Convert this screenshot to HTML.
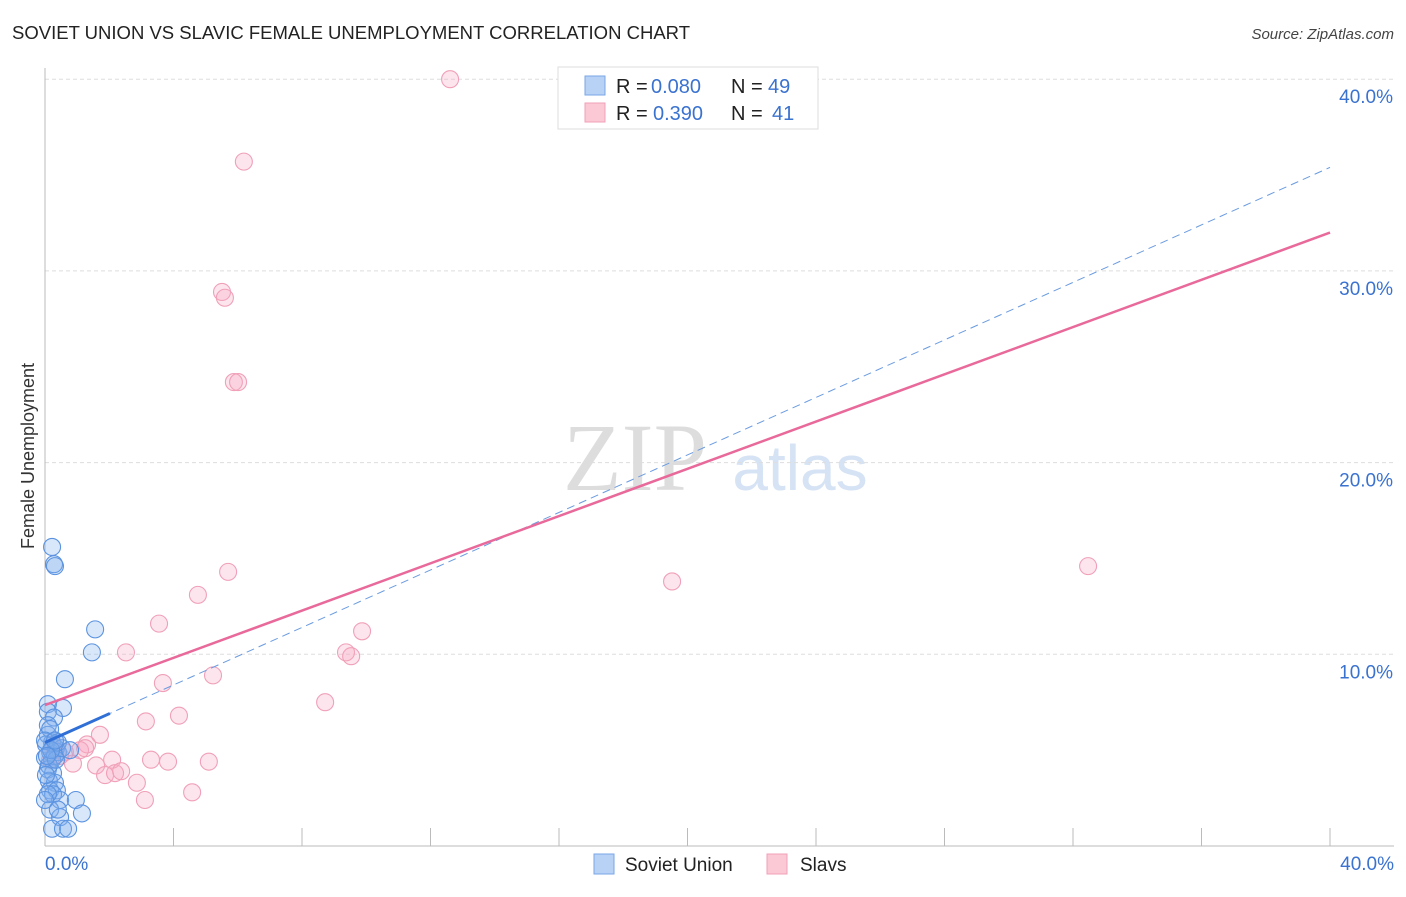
<!DOCTYPE html>
<html><head><meta charset="utf-8"><style>
body{margin:0;background:#fff;font-family:"Liberation Sans",sans-serif;}
svg text{font-family:"Liberation Sans",sans-serif;}
</style></head><body>
<svg width="1406" height="892">
<text x="12" y="39" font-size="18" fill="#222" textLength="678" lengthAdjust="spacingAndGlyphs">SOVIET UNION VS SLAVIC FEMALE UNEMPLOYMENT CORRELATION CHART</text>
<text x="1394" y="39" font-size="15" fill="#444" text-anchor="end" font-style="italic">Source: ZipAtlas.com</text>
<text x="635" y="490" font-size="96" fill="#ddd" text-anchor="middle" style="font-family:'Liberation Serif',serif">ZIP</text>
<text x="800" y="490" font-size="64" fill="#d6e3f5" text-anchor="middle">atlas</text>
<g id="grid"></g>
<g id="axes"></g>
<g id="pts"></g>
<g id="lines"></g>
<text x="34" y="456" font-size="18" fill="#333" text-anchor="middle" transform="rotate(-90 34 456)">Female Unemployment</text>
<g>
<rect x="558" y="67" width="260" height="62" fill="#fff" stroke="#ddd"/>
<rect x="585" y="76" width="20" height="19" fill="#b8d2f5" stroke="#7aa6e6"/>
<rect x="585" y="103" width="20" height="19" fill="#fbc8d6" stroke="#f0a0b8"/>
<text y="93" font-size="20" fill="#222"><tspan x="616">R =</tspan><tspan x="651" fill="#3a72d0">0.080</tspan><tspan x="731">N =</tspan><tspan x="768" fill="#3a72d0">49</tspan></text>
<text y="120" font-size="20" fill="#222"><tspan x="616">R =</tspan><tspan x="653" fill="#3a72d0">0.390</tspan><tspan x="731">N =</tspan><tspan x="772" fill="#3a72d0">41</tspan></text>
</g>
<g>
<rect x="594" y="854" width="20" height="20" fill="#b8d2f5" stroke="#7aa6e6"/>
<text x="625" y="871" font-size="19" fill="#222">Soviet Union</text>
<rect x="767" y="854" width="20" height="20" fill="#fbc8d6" stroke="#f0a0b8"/>
<text x="800" y="871" font-size="19" fill="#222">Slavs</text>
</g>
</svg>
<script>
const yTicks=[10,20,30,40];
const yTickLabels=["10.0%","20.0%","30.0%","40.0%"];
const xTickLabels=["0.0%","40.0%"];
const blueX=[0.22,0.28,0.31,1.56,1.46,0.62,0.56,0.09,0.09,0.28,0.09,0.22,0.03,0.34,0.16,0.40,0.0,0.22,0.31,0.09,0.25,0.12,0.31,0.16,0.37,0.25,0.47,0.96,0.16,1.15,0.47,0.22,0.56,0.72,0.09,0.16,0.0,0.12,0.03,0.34,0.53,0.40,0.19,0.06,0.31,0.09,0.0,0.40,0.78];
const blueY=[15.6,14.7,14.6,11.3,10.1,8.7,7.2,7.4,7.0,6.7,5.8,5.4,5.3,5.1,4.9,4.9,4.6,4.5,4.7,4.0,3.8,3.4,3.3,2.9,2.9,2.7,2.4,2.4,1.9,1.7,1.5,0.9,0.9,0.9,6.3,6.1,5.5,4.2,3.7,4.5,5.1,5.4,5.0,4.7,5.5,2.7,2.4,1.9,5.0];
const pinkX=[12.61,6.19,5.51,5.60,5.88,6.01,5.70,4.76,3.55,2.52,9.87,9.37,9.53,3.67,5.23,8.72,4.17,3.14,1.71,1.31,2.09,3.30,3.83,5.10,1.59,0.87,1.87,2.18,2.37,2.86,3.11,4.58,19.52,32.47,1.09,0.47,0.25,0.16,1.25,0.31,0.62];
const pinkY=[40.0,35.7,28.9,28.6,24.2,24.2,14.3,13.1,11.6,10.1,11.2,10.1,9.9,8.5,8.9,7.5,6.8,6.5,5.8,5.3,4.5,4.5,4.4,4.4,4.2,4.3,3.7,3.8,3.9,3.3,2.4,2.8,13.8,14.6,5.0,4.7,5.3,4.5,5.1,5.0,4.9];
const blueTrend=[5.4,35.4];
const pinkTrend=[7.35,32.0];
const NS="http://www.w3.org/2000/svg";
const X=v=>45+v/40*1285, Y=v=>846-v/10*191.7;
function mk(tag,attrs,parent){const e=document.createElementNS(NS,tag);for(const k in attrs)e.setAttribute(k,attrs[k]);document.getElementById(parent).appendChild(e);return e;}
yTicks.forEach((t,i)=>{
 const g=mk('line',{x1:45,x2:1394,y1:Y(t),y2:Y(t),stroke:'#ddd','stroke-dasharray':'4,3'},'grid');
 
 
 const l=mk('text',{x:1393,y:Y(t)+24,'font-size':19,fill:'#3a72d0','text-anchor':'end'},'grid');
 l.textContent=yTickLabels[i];
 
 
});
const ax=mk('line',{x1:45,x2:45,y1:68,y2:846,stroke:'#bbb'},'axes');


const bx=mk('line',{x1:45,x2:1394,y1:846,y2:846,stroke:'#bbb'},'axes');


for(let i=1;i<=10;i++){
 const t=mk('line',{x1:X(i*4),x2:X(i*4),y1:828,y2:846,stroke:'#bbb'},'axes');
 
 
}
[[0,'start',45],[40,'end',1394]].forEach((d,i)=>{
 const l=mk('text',{x:d[2],y:870,'font-size':19,fill:'#3a72d0','text-anchor':d[1]},'axes');
 l.textContent=xTickLabels[i];
 
 
});
pinkX.forEach((v,i)=>{
 const c=mk('circle',{cx:X(v),cy:Y(pinkY[i]),r:8.5,fill:'rgba(248,170,195,0.3)',stroke:'#f0a0b8','stroke-width':1.1},'pts');
 
 
});
blueX.forEach((v,i)=>{
 const c=mk('circle',{cx:X(v),cy:Y(blueY[i]),r:8.5,fill:'rgba(130,175,240,0.3)',stroke:'#5b93e0','stroke-width':1.1},'pts');
 
 
});
const slope=(blueTrend[1]-blueTrend[0])/40;
const bd=mk('line',{x1:X(0),y1:Y(blueTrend[0]),x2:X(40),y2:Y(blueTrend[1]),stroke:'#6a9be0','stroke-width':1,'stroke-dasharray':'8,5'},'lines');


const bs=mk('line',{x1:X(0),y1:Y(blueTrend[0]),x2:X(2.02),y2:Y(blueTrend[0]+slope*2.02),stroke:'#2f6fd6','stroke-width':3},'lines');


const ps=mk('line',{x1:X(0),y1:Y(pinkTrend[0]),x2:X(40),y2:Y(pinkTrend[1]),stroke:'#e8699a','stroke-width':2.5},'lines');


</script>
</body></html>
